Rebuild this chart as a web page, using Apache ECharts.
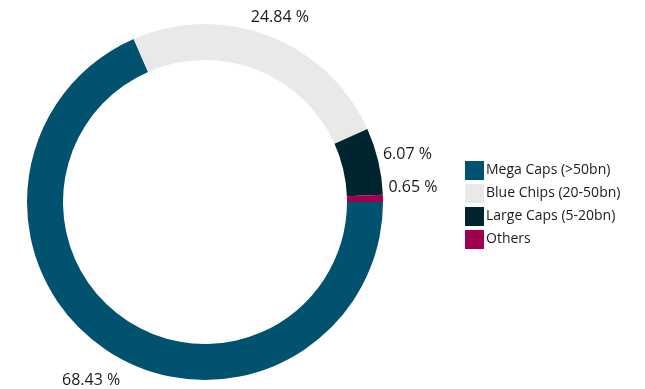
<!DOCTYPE html>
<html>
<head>
<meta charset="utf-8">
<script src="https://cdn.jsdelivr.net/npm/echarts@6/dist/echarts.min.js"></script>
<style>
  html, body { margin: 0; padding: 0; background: #fff; }
  #main { width: 645px; height: 389px; }
</style>
</head>
<body>
<div id="main"></div>
<script>
// data
var categories = ['Mega Caps (>50bn)', 'Blue Chips (20-50bn)', 'Large Caps (5-20bn)', 'Others']
var shares = [68.43, 24.84, 6.07, 0.65]
var colors = ['#00526f', '#e9e9e9', '#01252f', '#a0004f']
// small nudges so the labels sit where the original put them
var labelOffsets = [[0, 4], [0, 10], [0, 0], [0, -10]]

var pieData = categories.map(function (name, i) {
  return { name: name, value: shares[i] }
})

// second, invisible ring only carries the percentage labels
var labelData = categories.map(function (name, i) {
  return { name: name, value: shares[i], label: { offset: labelOffsets[i] } }
})

var myChart = echarts.init(document.getElementById('main'))
myChart.setOption({
  animation: false,
  color: colors,
  legend: {
    orient: 'vertical',
    left: 465,
    top: 161,
    padding: 0,
    icon: 'rect',
    itemWidth: 19,
    itemHeight: 19,
    itemGap: 4,
    data: categories,
    textStyle: { fontFamily: 'Open Sans', fontSize: 14, color: '#1a1a1a', padding: [0, 0, 0, -3] }
  },
  series: [
    {
      name: 'caps',
      type: 'pie',
      center: [205, 202],
      radius: [142, 178],
      startAngle: 0,
      clockwise: true,
      label: { show: false },
      labelLine: { show: false },
      data: pieData
    },
    {
      name: 'labels',
      type: 'pie',
      silent: true,
      center: [205, 202],
      radius: [192, 218],
      startAngle: 0,
      clockwise: true,
      itemStyle: { color: 'rgba(0,0,0,0)' },
      label: {
        position: 'inside',
        formatter: '{c} %',
        fontFamily: 'Open Sans',
        fontSize: 16,
        color: '#1a1a1a'
      },
      labelLine: { show: false },
      data: labelData
    }
  ]
})
</script>
</body>
</html>
